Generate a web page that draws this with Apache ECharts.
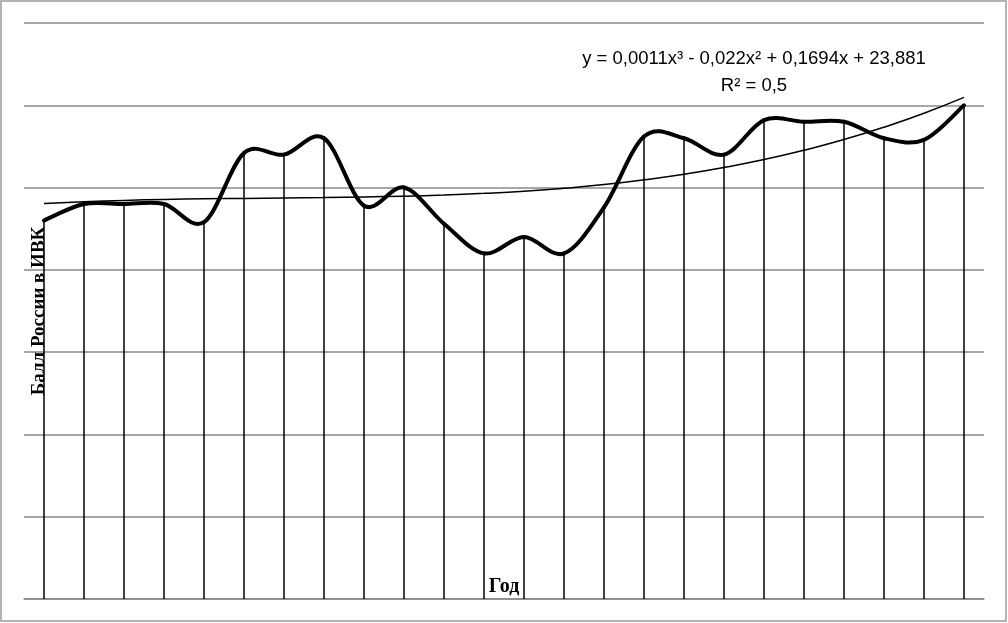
<!DOCTYPE html>
<html>
<head>
<meta charset="utf-8">
<script src="https://cdn.jsdelivr.net/npm/echarts@6/dist/echarts.min.js"></script>
<style>
  html, body { margin: 0; padding: 0; background: #fff; }
  #chart { width: 1008px; height: 623px; }
</style>
</head>
<body>
<div id="chart"></div>
<script>
  // годы 1..24 (подписи на оси не показаны)
  var categories = ['1','2','3','4','5','6','7','8','9','10','11','12',
                    '13','14','15','16','17','18','19','20','21','22','23','24'];
  // балл России в ИВК
  var scores = [23.0, 24.0, 24.0, 24.0, 22.9, 27.1, 27.0, 28.0, 23.9, 25.0, 22.8, 21.0,
                22.0, 21.0, 23.8, 28.1, 28.0, 27.0, 29.1, 29.0, 29.0, 28.0, 27.9, 30.0];
  // полиномиальная линия тренда
  var trend = [24.03, 24.14, 24.22, 24.28, 24.32, 24.34, 24.37, 24.39, 24.43, 24.48, 24.55, 24.65,
               24.78, 24.96, 25.18, 25.47, 25.81, 26.22, 26.70, 27.27, 27.92, 28.67, 29.52, 30.48];
  var yTicks = [0, 5, 10, 15, 20, 25, 30, 35];

  // сглаженная линия как в Excel: отрезки Безье, касательная = (P[i+1]-P[i-1])/6
  function renderSmooth(params, api) {
    var i = params.dataIndex;
    if (i >= scores.length - 1) return null;
    var n = scores.length;
    var p = function (k) {
      k = Math.max(0, Math.min(n - 1, k));
      return api.coord([k, scores[k]]);
    };
    var p0 = p(i - 1), p1 = p(i), p2 = p(i + 1), p3 = p(i + 2);
    return {
      type: 'bezierCurve',
      shape: {
        x1: p1[0], y1: p1[1],
        x2: p2[0], y2: p2[1],
        cpx1: p1[0] + (p2[0] - p0[0]) / 6, cpy1: p1[1] + (p2[1] - p0[1]) / 6,
        cpx2: p2[0] - (p3[0] - p1[0]) / 6, cpy2: p2[1] - (p3[1] - p1[1]) / 6
      },
      style: { stroke: '#000', lineWidth: 4, fill: null, lineCap: 'round' },
      silent: true
    };
  }

  var chart = echarts.init(document.getElementById('chart'));
  chart.setOption({
    animation: false,
    backgroundColor: '#fff',
    grid: { left: 24, right: 24, top: 23, bottom: 24, containLabel: false },
    xAxis: {
      type: 'category',
      data: categories,
      boundaryGap: true,
      name: 'Год',
      nameLocation: 'middle',
      nameGap: -22,
      nameTextStyle: { fontFamily: 'Liberation Serif', fontWeight: 'bold', fontSize: 20, color: '#000' },
      axisLine: { lineStyle: { color: '#8a8a8a', width: 1.5 } },
      axisTick: { show: false },
      axisLabel: { show: false },
      splitLine: { show: false }
    },
    yAxis: {
      type: 'value',
      min: yTicks[0],
      max: yTicks[yTicks.length - 1],
      interval: 5,
      name: 'Балл России в ИВК',
      nameLocation: 'middle',
      nameGap: -25,
      nameTextStyle: { fontFamily: 'Liberation Serif', fontWeight: 'bold', fontSize: 19, color: '#000' },
      axisLine: { show: false },
      axisTick: { show: false },
      axisLabel: { show: false },
      splitLine: { lineStyle: { color: '#8a8a8a', width: 1.5 } }
    },
    series: [
      {
        name: 'drop',
        type: 'bar',
        data: scores,
        barWidth: 1.5,
        silent: true,
        itemStyle: { color: '#000' },
        z: 1
      },
      {
        name: 'Балл',
        type: 'custom',
        data: scores.map(function (v, i) { return [i, v]; }),
        renderItem: renderSmooth,
        encode: { x: 0, y: 1 },
        z: 3
      },
      {
        name: 'Тренд',
        type: 'line',
        data: trend,
        smooth: true,
        symbol: 'none',
        lineStyle: { color: '#000', width: 1.5 },
        z: 4
      }
    ],
    graphic: [
      {
        type: 'rect',
        shape: { x: 1, y: 1, width: 1005, height: 620 },
        style: { fill: 'none', stroke: '#9a9a9a', lineWidth: 1.5 },
        silent: true
      },
      {
        type: 'text',
        x: 754,
        y: 59,
        style: {
          text: 'y = 0,0011x³ - 0,022x² + 0,1694x + 23,881',
          font: '18.5px "Liberation Sans"',
          fill: '#000',
          align: 'center',
          verticalAlign: 'middle'
        }
      },
      {
        type: 'text',
        x: 754,
        y: 86,
        style: {
          text: 'R² = 0,5',
          font: '18.5px "Liberation Sans"',
          fill: '#000',
          align: 'center',
          verticalAlign: 'middle'
        }
      }
    ]
  });
</script>
</body>
</html>
